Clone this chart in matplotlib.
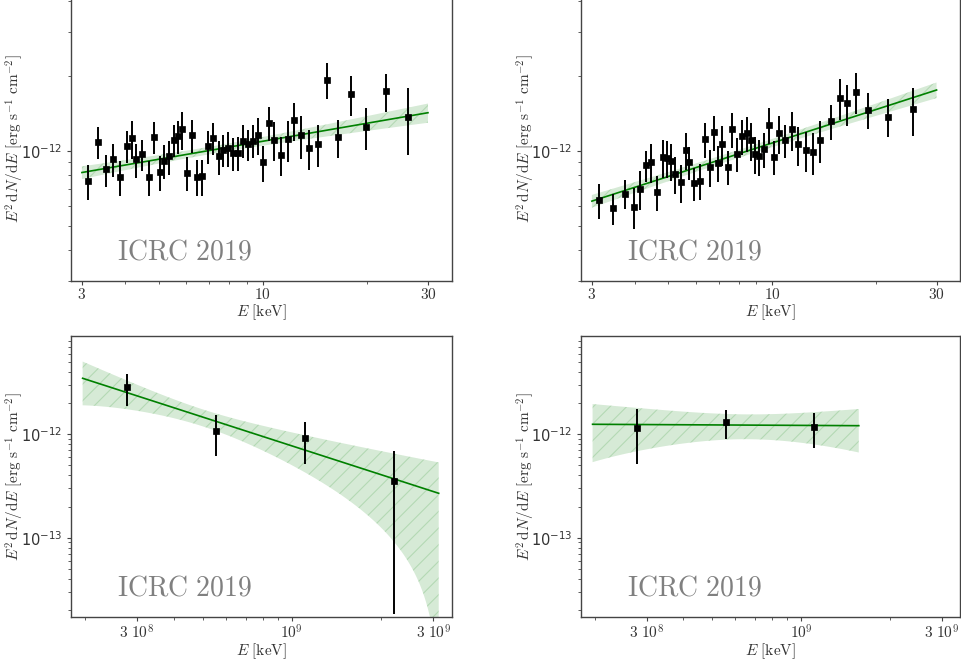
import numpy as np
import matplotlib
matplotlib.use("Agg")
import matplotlib.pyplot as plt
from matplotlib.ticker import FixedLocator, FixedFormatter, LogLocator, NullFormatter

plt.rcParams["mathtext.fontset"] = "cm"
plt.rcParams["hatch.linewidth"] = 0.8

# X-ray spectral points, E in keV, E^2 dN/dE in 1e-12 erg s^-1 cm^-2
xr_left_e = [3.13, 3.33, 3.51, 3.69, 3.87, 4.05, 4.18, 4.29, 4.47, 4.68, 4.86, 5.04,
             5.19, 5.36, 5.54, 5.70, 5.83, 6.03, 6.24, 6.45, 6.69, 6.94, 7.18, 7.46,
             7.69, 7.91, 8.20, 8.46, 8.77, 9.06, 9.37, 9.66, 10.0, 10.4, 10.8, 11.3,
             11.8, 12.3, 12.9, 13.6, 14.4, 15.3, 16.5, 18.0, 19.8, 22.7, 26.3]
xr_left_f = [0.755, 1.087, 0.841, 0.926, 0.786, 1.044, 1.124, 0.923, 0.967, 0.786, 1.135, 0.821,
             0.912, 0.949, 1.104, 1.145, 1.218, 0.816, 1.156, 0.786, 0.791, 1.041, 1.124, 0.949,
             1.009, 1.025, 0.976, 0.982, 1.097, 1.060, 1.097, 1.156, 0.898, 1.296, 1.107, 0.964,
             1.110, 1.328, 1.152, 1.025, 1.067, 1.928, 1.135, 1.689, 1.245, 1.731, 1.369]
xr_left_err = [0.118, 0.161, 0.124, 0.143, 0.125, 0.153, 0.196, 0.145, 0.139, 0.127, 0.166, 0.129,
               0.140, 0.149, 0.161, 0.176, 0.214, 0.126, 0.175, 0.130, 0.130, 0.155, 0.164, 0.149,
               0.152, 0.161, 0.147, 0.151, 0.166, 0.147, 0.166, 0.191, 0.151, 0.204, 0.196, 0.172,
               0.210, 0.231, 0.229, 0.191, 0.206, 0.320, 0.196, 0.315, 0.240, 0.296, 0.41]

xr_right_e = [3.14, 3.45, 3.74, 3.97, 4.13, 4.30, 4.46, 4.64, 4.83, 4.95, 5.08, 5.23,
              5.45, 5.63, 5.74, 5.95, 6.19, 6.40, 6.59, 6.80, 6.98, 7.17, 7.43, 7.66,
              7.90, 8.19, 8.45, 8.67, 8.91, 9.17, 9.48, 9.82, 10.1, 10.5, 10.9, 11.4,
              11.9, 12.5, 13.1, 13.8, 14.8, 15.7, 16.5, 17.5, 19.0, 21.7, 25.7]
xr_right_f = [0.634, 0.588, 0.672, 0.596, 0.704, 0.873, 0.901, 0.682, 0.943, 0.937, 0.912, 0.809,
              0.746, 1.003, 0.898, 0.742, 0.758, 1.114, 0.862, 1.189, 0.895, 1.060, 0.862, 1.222,
              0.973, 1.145, 1.174, 1.100, 0.973, 0.952, 1.016, 1.272, 0.946, 1.178, 1.100, 1.218,
              1.060, 1.006, 0.991, 1.107, 1.312, 1.633, 1.549, 1.725, 1.461, 1.369, 1.470]
xr_right_err = [0.100, 0.084, 0.091, 0.113, 0.125, 0.121, 0.162, 0.108, 0.163, 0.159, 0.155, 0.137,
                0.127, 0.170, 0.138, 0.114, 0.123, 0.180, 0.146, 0.193, 0.145, 0.193, 0.133, 0.194,
                0.150, 0.185, 0.190, 0.187, 0.165, 0.157, 0.165, 0.206, 0.146, 0.204, 0.169, 0.216,
                0.188, 0.186, 0.191, 0.211, 0.209, 0.302, 0.294, 0.324, 0.241, 0.237, 0.319]

# gamma-ray points (keV)
gam_e = [2.78e8, 5.57e8, 1.108e9, 2.22e9]
gam_left_f = [2.85, 1.083, 0.915, 0.3535]
gam_left_err = [0.97, 0.46, 0.40, 0.335]
gam_right_f = [1.143, 1.315, 1.177]
gam_right_err = [0.63, 0.41, 0.44]

# power-law fits: pivot, E^2 dN/dE at pivot, photon index, rel. errors
fit_xr_left = dict(e0=7.0, f0=1.002e-12, index=1.760, norm_err=0.035, index_err=0.056,
                   curv_err=0.0, emin=3.0, emax=30.0)
fit_xr_right = dict(e0=8.0, f0=0.972e-12, index=1.554, norm_err=0.037, index_err=0.047,
                    curv_err=0.0, emin=3.0, emax=30.0)
fit_gam_left = dict(e0=5e8, f0=1.469e-12, index=2.926, norm_err=0.187, index_err=0.407,
                    curv_err=0.185, emin=1.97e8, emax=3.13e9)
fit_gam_right = dict(e0=6.6e8, f0=1.227e-12, index=2.015, norm_err=0.27, index_err=0.415,
                     curv_err=0.0, emin=1.97e8, emax=1.57e9)

W, H = 962, 666
TXT = "#333333"


def butterfly(ax, fit):
    e = np.geomspace(fit["emin"], fit["emax"], 300)
    t = np.log(e / fit["e0"])
    f = fit["f0"] * (e / fit["e0"]) ** (2 - fit["index"])
    rel = np.sqrt(fit["norm_err"] ** 2 + (fit["index_err"] * t) ** 2 + (fit["curv_err"] * t ** 2) ** 2)
    lo = np.clip(f * (1 - rel), 1e-17, None)
    hi = f * (1 + rel)
    ax.fill_between(e, lo, hi, facecolor=(0, 0.5, 0, 0.16), edgecolor=(0, 0.5, 0, 0.16),
                    hatch="//", linewidth=0, zorder=1)
    ax.plot(e, f, color="green", lw=1.2, zorder=2)


def points(ax, e, f, err):
    ax.errorbar(e, np.array(f) * 1e-12, yerr=np.array(err) * 1e-12, fmt="s", color="black",
                ms=4.2, mew=0.5, elinewidth=1.4, capsize=0, zorder=3)


def style(ax, xticks, xlabels, ylim, xlim):
    ax.set_xscale("log")
    ax.set_yscale("log")
    ax.set_xlim(*xlim)
    ax.set_ylim(*ylim)
    for s in ax.spines.values():
        s.set_color("#444444")
        s.set_linewidth(1.0)
    ax.xaxis.set_major_locator(FixedLocator(xticks))
    ax.xaxis.set_major_formatter(FixedFormatter(xlabels))
    ax.xaxis.set_minor_locator(LogLocator(base=10, subs=np.arange(2, 10)))
    ax.xaxis.set_minor_formatter(NullFormatter())
    ax.yaxis.set_major_locator(LogLocator(base=10, numticks=10))
    ax.yaxis.set_minor_locator(LogLocator(base=10, subs=np.arange(2, 10), numticks=10))
    ax.yaxis.set_minor_formatter(NullFormatter())
    ax.tick_params(which="both", direction="out", colors="#444444", labelcolor=TXT)
    ax.tick_params(which="major", length=3, width=0.8)
    ax.tick_params(which="minor", length=2, width=0.6)
    ax.tick_params(axis="x", which="major", pad=1.5, labelsize=11)
    ax.tick_params(axis="y", which="major", pad=3, labelsize=10.5)
    ax.set_xlabel(r"$E\ [\mathrm{keV}]$", fontsize=11, color=TXT, labelpad=0)
    ax.set_ylabel(r"$E^2\,\mathrm{d}N/\mathrm{d}E\ [\mathrm{erg\ s^{-1}\ cm^{-2}}]$",
                  fontsize=11, color=TXT)
    ax.yaxis.set_label_coords(-0.117, 0.5)
    ax.text(0.12, 0.077, r"$\mathrm{ICRC\ 2019}$", transform=ax.transAxes, fontsize=20,
            color="#808080", ha="left", va="baseline")


def pos(x0, x1, y0, y1):
    return [x0 / W, 1 - y1 / H, (x1 - x0) / W, (y1 - y0) / H]


fig = plt.figure(figsize=(W / 100, H / 100), dpi=100)
ax_tl = fig.add_axes(pos(71, 452, -3, 281))
ax_tr = fig.add_axes(pos(581, 960.5, -3, 281))
ax_bl = fig.add_axes(pos(71, 452, 335.7, 617.3))
ax_br = fig.add_axes(pos(581, 960.5, 335.7, 617.3))

xr_ticks = [3, 10, 30]
xr_labels = [r"$3$", r"$10$", r"$30$"]
gam_ticks = [3e8, 1e9, 3e9]
gam_labels = [r"$3\ 10^{8}$", r"$10^{9}$", r"$3\ 10^{9}$"]

for ax, fit, e, f, err in [(ax_tl, fit_xr_left, xr_left_e, xr_left_f, xr_left_err),
                           (ax_tr, fit_xr_right, xr_right_e, xr_right_f, xr_right_err)]:
    butterfly(ax, fit)
    points(ax, e, f, err)
    style(ax, xr_ticks, xr_labels, (3.0e-13, 4.14e-12), (2.79, 35.2))

butterfly(ax_bl, fit_gam_left)
points(ax_bl, gam_e, gam_left_f, gam_left_err)
butterfly(ax_br, fit_gam_right)
points(ax_br, gam_e[:3], gam_right_f, gam_right_err)
for ax in (ax_bl, ax_br):
    style(ax, gam_ticks, gam_labels, (1.70e-14, 8.98e-12), (1.80e8, 3.47e9))

fig.savefig("out.png", dpi=100)
